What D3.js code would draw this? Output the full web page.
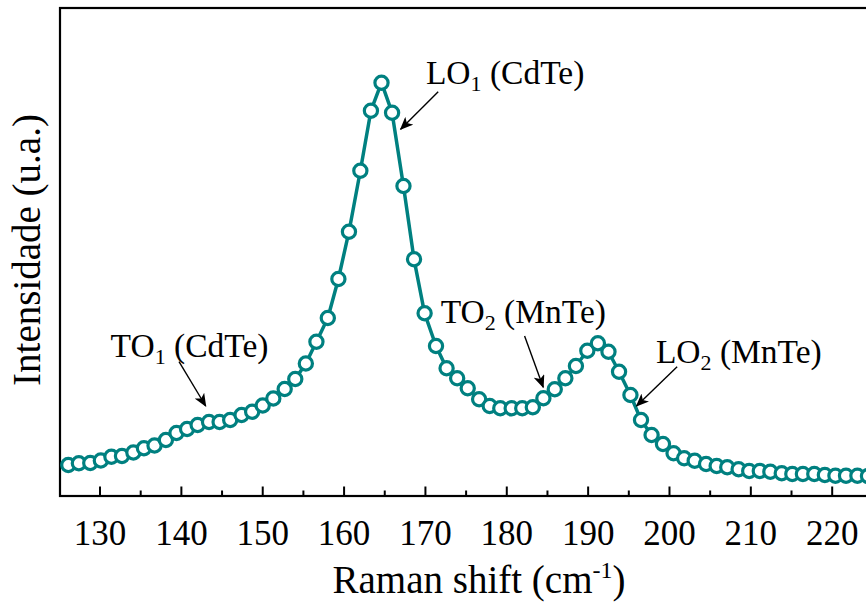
<!DOCTYPE html>
<html>
<head>
<meta charset="utf-8">
<script src="https://cdn.jsdelivr.net/npm/d3@7/dist/d3.min.js"></script>
<style>
  html, body { margin: 0; padding: 0; background: #fff; }
  svg { display: block; }
  text { font-family: "Liberation Serif", "Times New Roman", serif; fill: #000; }
</style>
</head>
<body>
<svg id="chart" width="866" height="603"></svg>
<script>
// Raman spectrum of a CdMnTe sample: wavenumber (cm-1) and intensity (arbitrary units)
const ramanShift = [
  126.1, 127.4, 128.8, 130.1, 131.4, 132.7, 134.1, 135.4, 136.7, 138.1,
  139.4, 140.7, 142.0, 143.4, 144.7, 146.0, 147.4, 148.7, 150.0, 151.3,
  152.7, 154.0, 155.3, 156.6, 158.0, 159.3, 160.6, 162.0, 163.3, 164.6,
  165.9, 167.3, 168.6, 169.9, 171.3, 172.6, 173.9, 175.2, 176.6, 177.9,
  179.2, 180.6, 181.9, 183.2, 184.5, 185.9, 187.2, 188.5, 189.9, 191.2,
  192.5, 193.8, 195.2, 196.5, 197.8, 199.2, 200.5, 201.8, 203.1, 204.5,
  205.8, 207.1, 208.5, 209.8, 211.1, 212.4, 213.8, 215.1, 216.4, 217.8,
  219.1, 220.4, 221.7, 223.1, 224.4
];
const intensity = [
  310, 327, 330, 355, 393, 400, 435, 477, 505, 560,
  630, 670, 710, 740, 740, 760, 810, 843, 905, 975,
  1070, 1170, 1325, 1543, 1780, 2170, 2643, 3253, 3853, 4133,
  3833, 3100, 2367, 1827, 1500, 1277, 1177, 1077, 967, 900,
  877, 877, 877, 887, 977, 1067, 1177, 1300, 1453, 1527,
  1443, 1243, 1010, 760, 610, 520, 427, 377, 353, 320,
  300, 287, 267, 250, 250, 243, 227, 220, 220, 220,
  210, 203, 203, 203, 200
];

// Axis ticks
const majorTicks = [130, 140, 150, 160, 170, 180, 190, 200, 210, 220];
const minorTicks = [125, 135, 145, 155, 165, 175, 185, 195, 205, 215, 225];

// Peak assignments: label anchor and arrow (tail -> head), in data units
const peakLabels = ["LO", "TO", "TO", "LO"];
const peakIndex = ["1", "1", "2", "2"];
const peakPhase = [" (CdTe)", " (CdTe)", " (MnTe)", " (MnTe)"];
const labelX = [170.06, 131.3, 171.87, 198.33];
const labelY = [4120, 1393, 1727, 1333];
const arrowFromX = [171.57, 139.71, 182.19, 200.94];
const arrowFromY = [4043, 1343, 1600, 1293];
const arrowToX = [166.95, 142.99, 184.48, 195.95];
const arrowToY = [3667, 900, 1087, 900];

const svg = d3.select("#chart");
const teal = "#008080";

const plot = { left: 60, top: 8, bottom: 496, right: 881 };

const x = d3.scaleLinear().domain([125.08, 226]).range([plot.left, plot.right]);
const y = d3.scaleLinear().domain([0, 4880]).range([plot.bottom, plot.top]);

// Frame
svg.append("rect")
  .attr("x", plot.left).attr("y", plot.top)
  .attr("width", plot.right - plot.left).attr("height", plot.bottom - plot.top)
  .attr("fill", "none").attr("stroke", "#000").attr("stroke-width", 2.2);

// Inward ticks on the bottom axis
const xAxis = svg.append("g");
xAxis.selectAll("line.major").data(majorTicks).join("line")
  .attr("class", "major")
  .attr("x1", d => x(d)).attr("x2", d => x(d))
  .attr("y1", plot.bottom).attr("y2", plot.bottom - 9.5)
  .attr("stroke", "#000").attr("stroke-width", 2);
xAxis.selectAll("line.minor").data(minorTicks.filter(d => x(d) > plot.left + 1)).join("line")
  .attr("class", "minor")
  .attr("x1", d => x(d)).attr("x2", d => x(d))
  .attr("y1", plot.bottom).attr("y2", plot.bottom - 5.5)
  .attr("stroke", "#000").attr("stroke-width", 2);
xAxis.selectAll("text").data(majorTicks).join("text")
  .attr("x", d => x(d)).attr("y", 545)
  .attr("text-anchor", "middle")
  .attr("font-size", 35)
  .text(d => d);

// Axis titles
const xt = svg.append("text")
  .attr("x", 479).attr("y", 593)
  .attr("text-anchor", "middle")
  .attr("font-size", 39);
xt.append("tspan").text("Raman shift (cm");
xt.append("tspan").attr("font-size", 24).attr("dy", -15).text("-1");
xt.append("tspan").attr("dy", 15).text(")");

svg.append("text")
  .attr("transform", "translate(40,250) rotate(-90)")
  .attr("text-anchor", "middle")
  .attr("font-size", 39)
  .text("Intensidade (u.a.)");

// Spectrum
const pts = ramanShift.map((d, i) => [d, intensity[i]]);
const g = svg.append("g");
g.append("path")
  .datum(pts)
  .attr("fill", "none")
  .attr("stroke", teal)
  .attr("stroke-width", 3.5)
  .attr("stroke-linejoin", "round")
  .attr("d", d3.line().x(d => x(d[0])).y(d => y(d[1])));
g.selectAll("circle").data(pts).join("circle")
  .attr("cx", d => x(d[0])).attr("cy", d => y(d[1]))
  .attr("r", 6.6)
  .attr("fill", "#fff")
  .attr("stroke", teal)
  .attr("stroke-width", 3.2);

// Arrowhead
svg.append("defs").append("marker")
  .attr("id", "arrow")
  .attr("viewBox", "0 0 12 10")
  .attr("refX", 11).attr("refY", 5)
  .attr("markerWidth", 14).attr("markerHeight", 11)
  .attr("markerUnits", "userSpaceOnUse")
  .attr("orient", "auto")
  .append("path")
  .attr("d", "M0,0 L12,5 L0,10 L3,5 Z")
  .attr("fill", "#000");

// Peak annotations
peakLabels.forEach((lab, i) => {
  svg.append("line")
    .attr("x1", x(arrowFromX[i])).attr("y1", y(arrowFromY[i]))
    .attr("x2", x(arrowToX[i])).attr("y2", y(arrowToY[i]))
    .attr("stroke", "#000").attr("stroke-width", 1.4)
    .attr("marker-end", "url(#arrow)");
  const t = svg.append("text")
    .attr("x", x(labelX[i])).attr("y", y(labelY[i]))
    .attr("font-size", 33.5);
  t.append("tspan").text(lab);
  t.append("tspan").attr("font-size", 22).attr("dy", 7).text(peakIndex[i]);
  t.append("tspan").attr("dy", -7).text(peakPhase[i]);
});
</script>
</body>
</html>
